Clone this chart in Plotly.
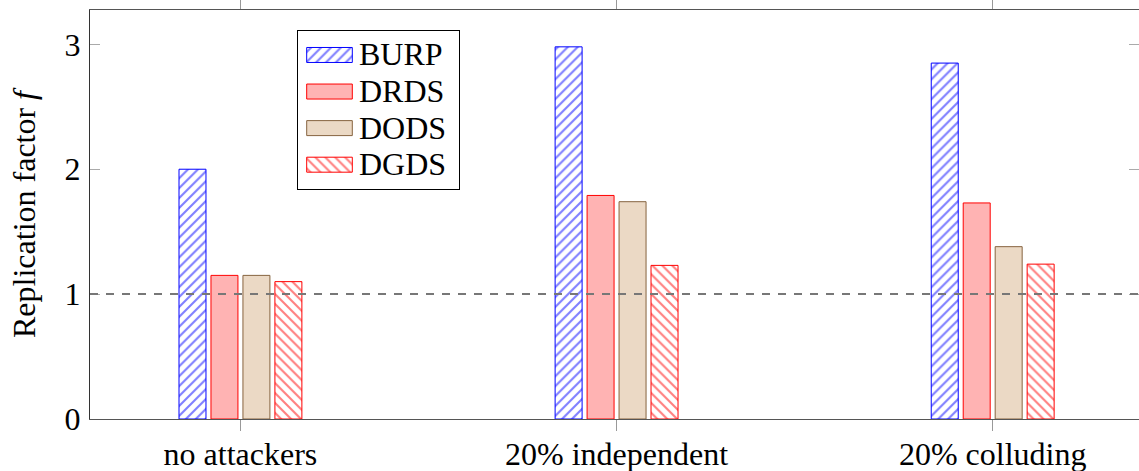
import plotly.graph_objects as go

categories = ["no attackers", "20% independent", "20% colluding"]
series_names = ["BURP", "DRDS", "DODS", "DGDS"]
burp = [2.00, 2.98, 2.85]
drds = [1.15, 1.79, 1.73]
dods = [1.15, 1.74, 1.38]
dgds = [1.10, 1.23, 1.24]
y_ticks = [0, 1, 2, 3]
reference_level = 1

FONT = "Liberation Serif, Times New Roman, serif"
FS = 32

BLUE = "#0000FF"
RED = "#FF0000"
styles = [
    dict(color="white", line=dict(color=BLUE, width=1),
         pattern=dict(shape="/", fgcolor=BLUE, bgcolor="white", size=7, solidity=0.3)),
    dict(color="#FFB3B3", line=dict(color=RED, width=1)),
    dict(color="#EBD9C5", line=dict(color="#86633F", width=1)),
    dict(color="white", line=dict(color=RED, width=1),
         pattern=dict(shape="\\", fgcolor=RED, bgcolor="white", size=7, solidity=0.3)),
]
values = [burp, drds, dods, dgds]

fig = go.Figure()

for name, vals, st in zip(series_names, values, styles):
    fig.add_trace(go.Bar(name=name, x=categories, y=vals, marker=st,
                         showlegend=False, xaxis="x", yaxis="y"))

fig.add_hline(y=reference_level, line=dict(color="#777777", width=2, dash="8px,8px"),
              layer="above")

# ---- legend drawn in its own small overlay subplot (pixel-like units) ----
LEG_W, LEG_H = 161, 158
row_pitch = 36.6
row_first = 24
sw_left, sw_len, sw_h = 8.7, 45.6, 15
text_x = 61
text_dy = 2.5
for i, (name, st) in enumerate(zip(series_names, styles)):
    yc = row_first + i * row_pitch
    fig.add_trace(go.Bar(x=[sw_len], y=[yc], base=[sw_left], orientation="h",
                         width=sw_h, offset=-sw_h / 2, marker=st, showlegend=False,
                         xaxis="x2", yaxis="y2", hoverinfo="skip"))
fig.add_trace(go.Scatter(
    x=[text_x] * len(series_names),
    y=[row_first + i * row_pitch + text_dy for i in range(len(series_names))],
    mode="text", text=series_names, textposition="middle right",
    textfont=dict(family=FONT, size=FS, color="black"),
    showlegend=False, xaxis="x2", yaxis="y2", hoverinfo="skip", cliponaxis=False,
))

PLOT_L, PLOT_R, PLOT_T, PLOT_B = 90, 1139, 10, 419.3
pw, ph = PLOT_R - PLOT_L, PLOT_B - PLOT_T
box_l, box_t = 298, 31
dx0 = (box_l - PLOT_L) / pw
dx1 = (box_l + LEG_W - PLOT_L) / pw
dy1 = (PLOT_B - box_t) / ph
dy0 = (PLOT_B - box_t - LEG_H) / ph

fig.update_layout(
    width=1139, height=471,
    margin=dict(l=90, r=0, t=10, b=471 - 419.3, autoexpand=False),
    paper_bgcolor="white", plot_bgcolor="white",
    barmode="group", bargap=0.66, bargroupgap=0.156,
    font=dict(family=FONT, size=FS, color="black"),
    showlegend=False,
    xaxis=dict(
        domain=[0, 1], anchor="y", automargin=False,
        type="category", range=[-0.4, 2.389],
        showline=True, linecolor="#555555", linewidth=1, mirror="ticks",
        ticks="outside", ticklen=11, tickcolor="#999999", tickwidth=1,
        showgrid=False, zeroline=False, ticklabelstandoff=-4,
        tickfont=dict(family=FONT, size=FS, color="black"),
    ),
    yaxis=dict(
        domain=[0, 1], anchor="x", automargin=False,
        range=[0, 3.275], tickvals=y_ticks, ticktext=[str(v) for v in y_ticks],
        showline=True, linecolor="#333333", linewidth=1, mirror="ticks",
        ticks="inside", ticklen=10, tickcolor="#aaaaaa", tickwidth=1,
        showgrid=False, zeroline=False, ticklabelstandoff=2,
        tickfont=dict(family=FONT, size=FS, color="black"),
        title=dict(text="Replication factor <i>f</i>", font=dict(family=FONT, size=FS), standoff=19),
    ),
    xaxis2=dict(domain=[dx0, dx1], anchor="y2", range=[0, LEG_W],
                showline=True, mirror=True, linecolor="black", linewidth=1,
                showticklabels=False, ticks="", showgrid=False, zeroline=False,
                fixedrange=True),
    yaxis2=dict(domain=[dy0, dy1], anchor="x2", range=[LEG_H, 0],
                showline=True, mirror=True, linecolor="black", linewidth=1,
                showticklabels=False, ticks="", showgrid=False, zeroline=False,
                fixedrange=True),
)

fig.write_html("out.html")
